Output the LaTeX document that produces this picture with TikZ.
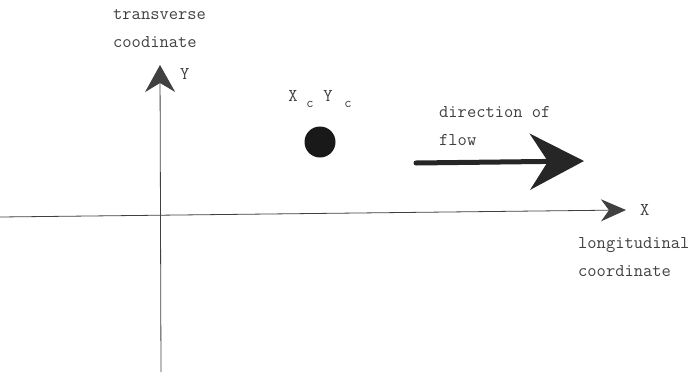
\documentclass[tikz,border=0pt]{standalone}
\usepackage{fontspec}
\setmonofont{Latin Modern Mono}
\usetikzlibrary{arrows.meta}
\tikzset{
        lbl/.style={font=\ttfamily\fontsize{18}{28}\selectfont, text=black!75, inner sep=0pt},
        sublbl/.style={font=\ttfamily\fontsize{14}{14}\selectfont, text=black!75, inner sep=0pt},
        axisarrow/.style={draw=black!75, line width=0.8pt},
        flowarrow/.style={draw=black!85, line width=5pt, line cap=round}
}
\begin{document}
\begin{tikzpicture}[x=1pt,y=-1pt]
        \useasboundingbox (0,0) rectangle (689,378);
        % axes
        \coordinate (ybot) at (161,372);
        \coordinate (ytop) at (160,65);
        \coordinate (xleft) at (0,217);
        \coordinate (xright) at (626,210);
        \draw[axisarrow, -{Stealth[length=27pt,width=30pt,inset=9pt]}] (ybot) -- (ytop);
        \draw[axisarrow, -{Stealth[length=25pt,width=22pt,inset=8pt]}] (xleft) -- (xright);
        \node[lbl, anchor=west] (ylbl) at (180,74) {Y};
        \node[lbl, anchor=west] (xlbl) at (640,210) {X};
        \node[lbl, anchor=west, align=left] (ytext) at (113,29) {transverse\\coodinate};
        \node[lbl, anchor=west, align=left] (xtext) at (578,257) {longitudinal\\coordinate};
        % the point
        \node[circle, fill=black!90, minimum size=31pt, inner sep=0pt] (pt) at (320,142) {};
        \node[lbl] (xc) at (293,96) {X};
        \node[sublbl] (xcsub) at (310,104) {c};
        \node[lbl] (yc) at (328,96) {Y};
        \node[sublbl] (ycsub) at (348,104) {c};
        % flow direction
        \coordinate (fstart) at (416,163);
        \coordinate (fend) at (584,161);
        \draw[flowarrow, -{Stealth[length=54pt,width=56pt,inset=18pt]}] (fstart) -- (fend);
        \node[lbl, anchor=west, align=left] (ftext) at (439,126) {direction of\\flow};
\end{tikzpicture}
\end{document}
